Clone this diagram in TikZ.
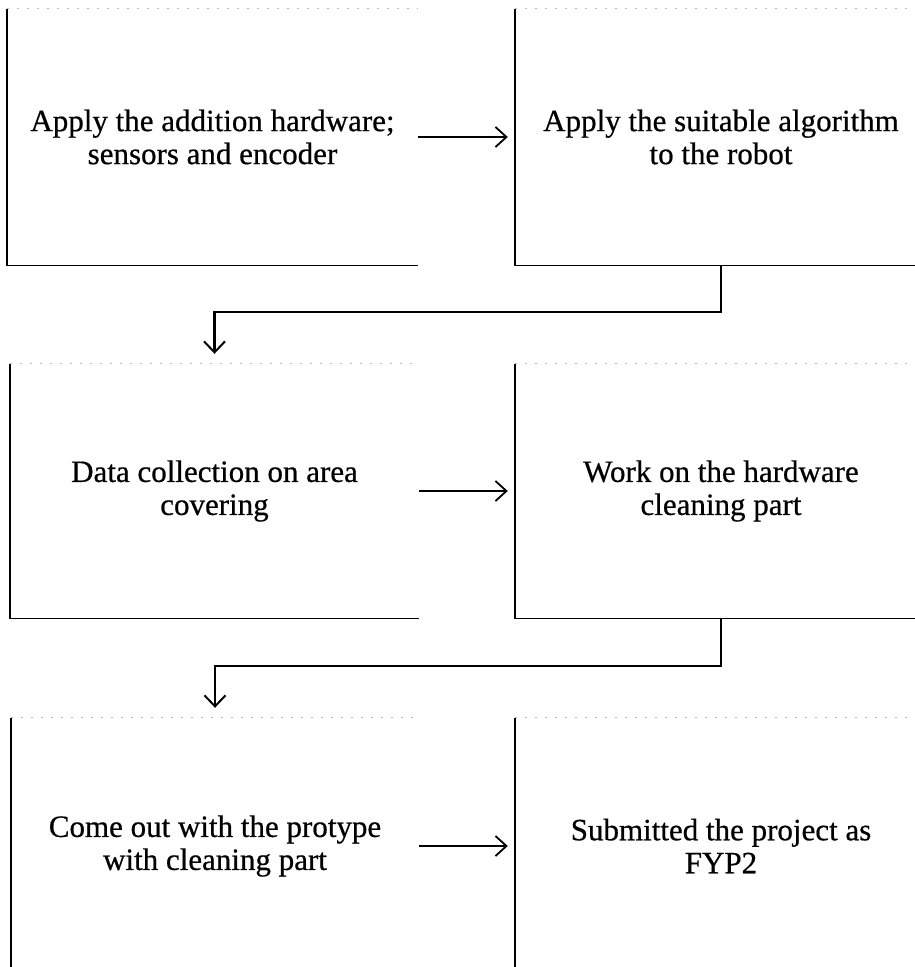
\documentclass[tikz,border=0pt]{standalone}
\usepackage{fontspec}
\setmainfont{Liberation Serif}
\newfontfamily\scanfont{Liberation Serif}[FakeBold=0.6]
\usetikzlibrary{arrows.meta}
\begin{document}
\begin{tikzpicture}[x=1pt,y=-1pt,
  box/.style={minimum width=411pt, minimum height=256pt, inner sep=0pt, align=center,
              font=\scanfont\fontsize{31}{33}\selectfont},
  edge/.style={line width=1.4pt},
  topedge/.style={draw=gray!55, line width=0.8pt, dash pattern=on 2pt off 8pt},
  flow/.style={line width=1.6pt, -{Straight Barb[length=11pt,width=20pt,line width=1.8pt]}},
  link/.style={line width=2.4pt, -{Straight Barb[length=11pt,width=21pt,line width=2pt]}}]
\useasboundingbox (0,0) rectangle (915,967);
\clip (0,0) rectangle (915,967);

\node[box] (b1) at (212.5,137) {Apply the addition hardware;\\sensors and encoder};
\node[box, minimum width=412pt] (b2) at (721,137) {Apply the suitable algorithm\\to the robot};
\node[box, minimum width=409pt, minimum height=254pt] (b3) at (214.5,491) {Data collection on area\\covering};
\node[box, minimum width=412pt, minimum height=254pt] (b4) at (721,491) {Work on the hardware\\cleaning part};
\node[box, minimum width=408pt] (b5) at (215,846) {Come out with the protype\\with cleaning part};
\node[box, minimum width=412pt] (b6) at (721,846) {Submitted the project as\\FYP2};

\foreach \b in {b1,b2,b3,b4,b5,b6}{
  \draw[edge] (\b.north west) -- (\b.south west) -- (\b.south east);
  \draw[topedge] (\b.north west) -- (\b.north east);
}

\draw[flow] (b1.east) -- ([xshift=-7pt]b2.west);
\draw[flow] (b3.east) -- ([xshift=-7pt]b4.west);
\draw[flow] (b5.east) -- ([xshift=-7pt]b6.west);

\draw[link] (b2.south) -- ++(0,47) -| ([yshift=10pt]b3.north);
\draw[link] (b4.south) -- ++(0,48) -| ([yshift=10pt]b5.north);
\end{tikzpicture}
\end{document}
